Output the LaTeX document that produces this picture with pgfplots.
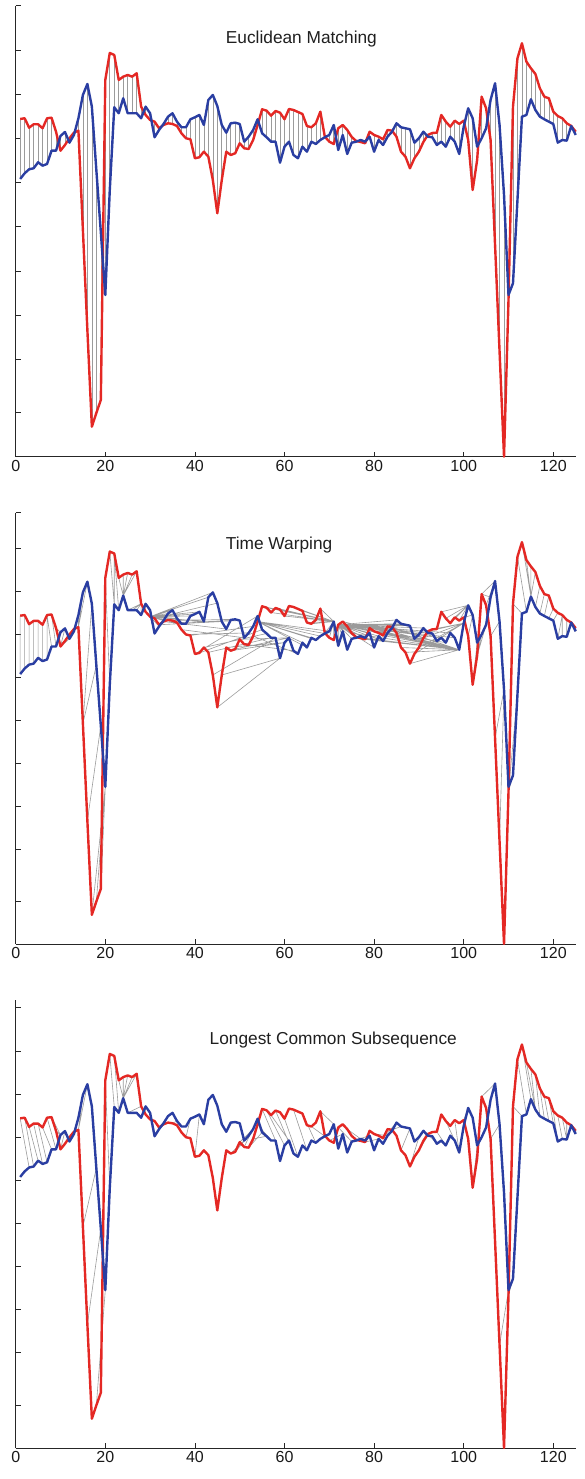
\documentclass[border=0pt]{standalone}
\usepackage{pgfplots}
\pgfplotsset{compat=1.18}
\usepackage{pgfplotstable}
\usepackage{fontspec}
\setmainfont{Liberation Sans}

\definecolor{sred}{RGB}{228,40,36}
\definecolor{sblue}{RGB}{42,62,162}
\definecolor{conn}{RGB}{155,155,155}

% i = sample, r = red series, b = blue series (values: pixel depth below top, panel 1 scale)
\pgfplotstableread{
i r b
1 119 179
2 118.3 173.3
3 127.7 169.3
4 124.3 168.3
5 124.3 162.3
6 128.3 165.7
7 118.3 164
8 117.7 150.7
9 131.7 150.7
10 150.7 136
11 145 132
12 138.3 142.7
13 132.7 135
14 130.7 118.3
15 230 95
16 330 84
17 426.7 106.7
18 413 170
19 400 232
20 80 295
21 53 190
22 55 107.3
23 80 113.3
24 76.7 98.3
25 75 113.3
26 76.7 113.3
27 73.3 113.3
28 106.7 118.3
29 115 106.7
30 120 113.3
31 121.7 137.3
32 128.3 130
33 125 124
34 123.3 116.7
35 124 113.3
36 126 121.7
37 133.3 127.3
38 138.3 127.3
39 139.3 119.3
40 158.3 117.3
41 157.3 115
42 151.7 125
43 156.7 100
44 180 95
45 213.3 106
46 180 125
47 151.7 132.7
48 155 123.3
49 153.3 122.7
50 143.3 124
51 148.3 141.7
52 149 136.7
53 140 130
54 125 119.3
55 109.3 133.3
56 110.7 137.3
57 115.7 141.7
58 111 141.7
59 112.7 162.7
60 119.3 146.7
61 109 141.7
62 110 155
63 112 158.3
64 114 146.7
65 126 151.7
66 127.3 141.7
67 123.3 144
68 111.7 140
69 136.7 137.3
70 141.7 135
71 144 125
72 128.3 150
73 125 135
74 130 154
75 137 142.7
76 141 141.7
77 142 140
78 143.3 141.7
79 131.7 136.7
80 135 151.7
81 136.7 140
82 139.3 145
83 130 136.7
84 130.7 131.7
85 136.7 123.3
86 151.7 127.3
87 156.7 128.3
88 168.3 129.3
89 158.3 142.7
90 151.7 138.3
91 142 131.7
92 135 136.7
93 133 137.3
94 132.7 145
95 115 141.7
96 121.7 146.7
97 126.7 136.7
98 120.7 141.7
99 124 154
100 120.7 126.7
101 140 108.3
102 190 118.3
103 160 146.7
104 96.7 138.3
105 108.3 128.3
106 140 100
107 245 83.3
108 351 125
109 456.7 195
110 300 295
111 106.7 283.3
112 58.3 200
113 43.3 116.7
114 61.7 115
115 68.3 99.3
116 74 110
117 88.3 116.7
118 96.7 119.3
119 98.3 121.7
120 111.7 124
121 116 142.7
122 118.3 140
123 123.3 140.7
124 126 126
125 131.7 135
}\data

% build a list of connecting segments red(i) -- blue(j) from index pairs i/j
\newcommand\buildconn[2]{%
  \gdef#1{}%
  \foreach \pa/\pb in {#2}{%
    \pgfmathtruncatemacro\ra{\pa-1}%
    \pgfmathtruncatemacro\rb{\pb-1}%
    \pgfplotstablegetelem{\ra}{r}\of\data
    \pgfmathsetmacro\ya{-\pgfplotsretval}%
    \pgfplotstablegetelem{\rb}{b}\of\data
    \pgfmathsetmacro\yb{-\pgfplotsretval}%
    \xdef#1{#1 (\pa,\ya) (\pb,\yb) (\pa,nan)}%
  }%
}

\gdef\euclist{}
\foreach \k in {1,...,125}{\xdef\euclist{\euclist\ifnum\k>1,\fi\k/\k}}
\expandafter\buildconn\expandafter\connE\expandafter{\euclist}

% warping path (red index / blue index)
\buildconn\connD{1/1,2/2,3/3,4/4,5/5,6/6,7/7,7/8,8/9,9/10,10/11,10/12,11/13,12/13,13/13,14/14,14/15,14/16,15/17,15/18,16/19,17/20,18/20,19/20,20/21,21/22,22/22,22/23,23/24,24/24,25/24,26/24,27/24,28/25,28/26,28/27,28/28,29/29,30/30,30/31,30/32,30/33,30/34,30/35,30/36,30/37,30/38,30/39,30/40,30/41,30/42,30/43,30/44,31/45,32/46,33/47,34/48,35/49,36/50,37/51,38/52,39/53,40/54,41/55,42/56,43/57,44/58,45/59,46/59,47/60,48/60,49/61,50/61,51/62,52/62,53/63,54/64,54/65,54/66,54/67,54/68,54/69,54/70,55/71,56/71,57/71,58/71,59/71,60/71,61/71,62/71,63/71,64/71,65/71,66/71,67/71,68/71,69/71,70/71,71/71,72/72,72/73,72/74,72/75,72/76,72/77,72/78,72/79,72/80,72/81,72/82,72/83,72/84,72/85,72/86,72/87,72/88,72/89,72/90,72/91,72/92,72/93,72/94,72/95,72/96,72/97,72/98,73/99,74/99,75/99,76/99,77/99,78/99,79/99,80/99,81/99,82/99,83/99,84/99,85/99,86/99,87/99,88/99,89/100,90/100,91/100,92/100,93/100,94/100,95/101,96/101,97/101,98/101,99/101,100/102,101/102,102/103,103/104,103/105,104/106,104/107,105/107,106/108,107/109,108/109,109/110,110/110,110/111,110/112,111/113,112/114,113/115,114/115,115/115,116/115,117/116,118/117,119/118,120/119,121/120,122/121,122/122,123/123,124/124,125/125}

% common-subsequence matches (red index / blue index)
\buildconn\connL{1/3,2/4,3/5,4/6,5/7,6/8,7/9,8/10,9/10,10/11,13/14,14/15,14/16,15/18,16/19,18/20,20/21,21/22,22/23,23/24,24/24,25/24,26/24,27/24,28/25,29/29,31/32,33/34,35/36,38/39,40/41,48/51,49/52,50/53,51/54,52/55,53/56,54/57,55/58,56/60,57/61,58/62,60/63,62/65,64/67,66/69,68/71,70/73,72/75,74/77,76/79,78/81,80/83,82/85,84/86,86/88,88/90,90/92,92/94,94/96,96/98,98/99,100/101,102/103,104/107,106/108,108/110,109/110,110/111,111/113,112/114,113/115,114/116,115/116,116/117,117/118,118/119,119/120,120/121,121/122,122/123,123/123,124/124,125/125}

\pgfplotsset{
  panel/.style={
    scale only axis, width=560pt, xmin=0, xmax=125,
    anchor=south west,
    axis x line*=bottom, axis y line*=left,
    xtick={0,20,...,120},
    yticklabels={},
    tick align=inside, major tick length=5pt,
    axis line style={black!85, line width=0.8pt},
    every tick/.style={black!85, line width=0.8pt},
    /pgf/number format/assume math mode=true,
    xticklabel style={font=\fontsize{16}{16}\selectfont, text=black!90},
    clip=false,
  },
  redser/.style={sred, line width=2.4pt, line join=round},
  blueser/.style={sblue, line width=2.4pt, line join=round},
  connline/.style={conn, line width=0.6pt, unbounded coords=jump, forget plot},
}

\begin{document}
\begin{tikzpicture}[x=1pt,y=1pt]
\useasboundingbox (0,0) rectangle (585,1479);

% ---------- Panel 1: Euclidean ----------
\begin{axis}[panel, at={(15.7pt,1022.3pt)}, height=451pt,
  ymin=-456.7, ymax=-5.7,
  ytick={-412.7,-359,-315,-271,-226.7,-182.3,-138.3,-94.3,-50,-5.7}]
\edef\tmp{\noexpand\addplot[connline] coordinates {\connE};}\tmp
\addplot[redser] table[x=i, y expr=-\thisrow{r}] {\data};
\addplot[blueser] table[x=i, y expr=-\thisrow{b}] {\data};
\end{axis}

% ---------- Panel 2: Time Warping ----------
\begin{axis}[panel, at={(15.7pt,535pt)}, height=431.3pt,
  ymin=-456.7, ymax=-13,
  ytick={-412.7,-359,-315,-271,-226.7,-182.3,-138.3,-94.3,-50,-13}]
\edef\tmp{\noexpand\addplot[connline] coordinates {\connD};}\tmp
\addplot[redser] table[x=i, y expr=-\thisrow{r}] {\data};
\addplot[blueser] table[x=i, y expr=-\thisrow{b}] {\data};
\end{axis}

% ---------- Panel 3: LCSS ----------
\begin{axis}[panel, at={(15.7pt,31pt)}, height=448pt,
  ymin=-456.7, ymax=2.3,
  ytick={-412.7,-359,-315,-271,-226.7,-182.3,-138.3,-94.3,-50,-5.7}]
\edef\tmp{\noexpand\addplot[connline] coordinates {\connL};}\tmp
\addplot[redser] table[x=i, y expr=-\thisrow{r}] {\data};
\addplot[blueser] table[x=i, y expr=-\thisrow{b}] {\data};
\end{axis}

\node[anchor=base west, font=\fontsize{17.3}{17.3}\selectfont, text=black!88, inner sep=0pt] at (225.7,1435.7) {Euclidean Matching};
\node[anchor=base west, font=\fontsize{17.3}{17.3}\selectfont, text=black!88, inner sep=0pt] at (225.7,929) {Time Warping};
\node[anchor=base west, font=\fontsize{17.3}{17.3}\selectfont, text=black!88, inner sep=0pt] at (209.5,434) {Longest Common Subsequence};
\end{tikzpicture}
\end{document}
